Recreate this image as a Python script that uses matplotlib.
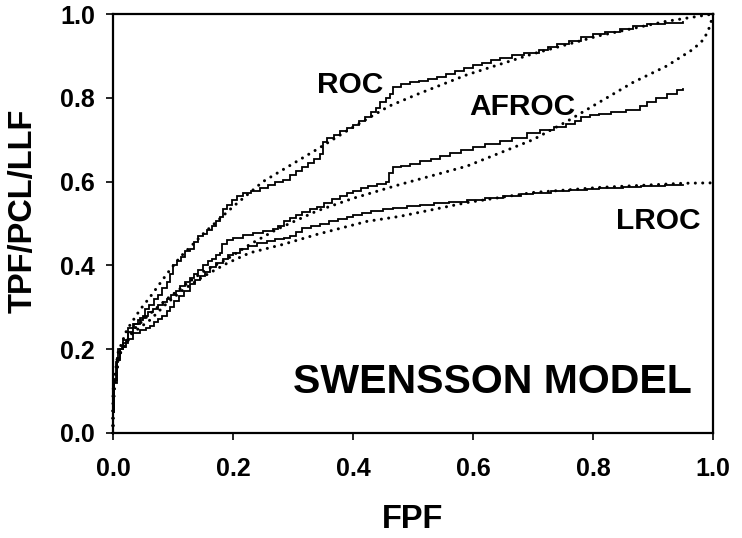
import matplotlib
matplotlib.use("Agg")
import matplotlib.pyplot as plt

plt.rcParams['font.family'] = ['Liberation Sans', 'DejaVu Sans']
plt.rcParams['font.weight'] = 'bold'

# ---------------- data ----------------
roc_emp_x = [0, 0, 0.002, 0.005, 0.008, 0.015, 0.022, 0.025, 0.035, 0.045, 0.053, 0.06, 0.068, 0.075,
             0.082, 0.09, 0.095, 0.1, 0.107, 0.113, 0.12, 0.128, 0.135, 0.142, 0.15, 0.157, 0.165,
             0.172, 0.178, 0.183, 0.19, 0.198, 0.207, 0.217, 0.23, 0.245, 0.258, 0.27, 0.283, 0.295,
             0.305, 0.315, 0.325, 0.335, 0.345, 0.35, 0.357, 0.368, 0.378, 0.39, 0.40, 0.41, 0.42,
             0.43, 0.438, 0.445, 0.455, 0.462, 0.467, 0.48, 0.495, 0.51, 0.525, 0.54, 0.555, 0.57,
             0.585, 0.6, 0.615, 0.63, 0.645, 0.665, 0.685, 0.71, 0.725, 0.74, 0.76, 0.78, 0.80, 0.82,
             0.845, 0.867, 0.89, 0.92, 0.95]
roc_emp_y = [0, 0.05, 0.13, 0.17, 0.20, 0.205, 0.22, 0.25, 0.26, 0.275, 0.295, 0.305, 0.32, 0.33,
             0.345, 0.36, 0.38, 0.40, 0.41, 0.42, 0.435, 0.44, 0.455, 0.47, 0.475, 0.485, 0.495,
             0.505, 0.515, 0.535, 0.545, 0.555, 0.565, 0.572, 0.577, 0.585, 0.592, 0.598, 0.605, 0.615,
             0.625, 0.635, 0.645, 0.655, 0.665, 0.695, 0.705, 0.712, 0.72, 0.727, 0.735, 0.745, 0.755,
             0.765, 0.775, 0.79, 0.80, 0.81, 0.825, 0.832, 0.837, 0.84, 0.845, 0.85, 0.857, 0.865,
             0.872, 0.878, 0.884, 0.89, 0.896, 0.902, 0.908, 0.915, 0.922, 0.928, 0.935, 0.944, 0.952,
             0.958, 0.965, 0.971, 0.975, 0.978, 0.982]

afroc_emp_x = [0, 0, 0.002, 0.007, 0.012, 0.017, 0.025, 0.033, 0.042, 0.05, 0.058, 0.067, 0.075,
               0.083, 0.09, 0.097, 0.105, 0.112, 0.12, 0.128, 0.135, 0.142, 0.15, 0.158, 0.165, 0.172,
               0.178, 0.182, 0.19, 0.2, 0.217, 0.233, 0.25, 0.267, 0.275, 0.285, 0.295, 0.305, 0.315,
               0.328, 0.34, 0.352, 0.365, 0.378, 0.39, 0.40, 0.413, 0.425, 0.44, 0.455, 0.46, 0.467,
               0.48, 0.495, 0.512, 0.53, 0.545, 0.562, 0.58, 0.6, 0.62, 0.645, 0.665, 0.69, 0.712,
               0.735, 0.755, 0.77, 0.78, 0.795, 0.81, 0.83, 0.855, 0.878, 0.89, 0.905, 0.923, 0.94, 0.95]
afroc_emp_y = [0, 0.05, 0.127, 0.18, 0.20, 0.222, 0.24, 0.26, 0.27, 0.28, 0.288, 0.295, 0.305,
               0.312, 0.32, 0.33, 0.34, 0.35, 0.36, 0.37, 0.38, 0.39, 0.40, 0.41, 0.415, 0.425,
               0.43, 0.45, 0.46, 0.465, 0.472, 0.477, 0.482, 0.487, 0.495, 0.505, 0.512, 0.52, 0.528,
               0.535, 0.54, 0.55, 0.558, 0.565, 0.572, 0.578, 0.585, 0.59, 0.595, 0.60, 0.62, 0.635,
               0.638, 0.642, 0.648, 0.655, 0.662, 0.668, 0.675, 0.682, 0.69, 0.698, 0.705, 0.715, 0.723,
               0.73, 0.738, 0.745, 0.755, 0.76, 0.762, 0.765, 0.772, 0.78, 0.79, 0.80, 0.81, 0.818, 0.822]

lroc_emp_x = [0, 0, 0.002, 0.007, 0.012, 0.017, 0.025, 0.033, 0.045, 0.055, 0.062, 0.068, 0.075,
              0.082, 0.09, 0.095, 0.102, 0.11, 0.118, 0.128, 0.137, 0.145, 0.153, 0.162, 0.172, 0.183,
              0.192, 0.2, 0.212, 0.225, 0.24, 0.256, 0.27, 0.285, 0.295, 0.305, 0.315, 0.33, 0.345,
              0.36, 0.375, 0.39, 0.40, 0.415, 0.43, 0.45, 0.467, 0.49, 0.512, 0.535, 0.56, 0.59, 0.62,
              0.65, 0.68, 0.70, 0.73, 0.76, 0.79, 0.81, 0.85, 0.88, 0.92, 0.95]
lroc_emp_y = [0, 0.05, 0.12, 0.175, 0.2, 0.215, 0.225, 0.238, 0.245, 0.25, 0.255, 0.265, 0.272,
              0.28, 0.29, 0.30, 0.315, 0.328, 0.34, 0.355, 0.365, 0.375, 0.385, 0.395, 0.405, 0.415,
              0.425, 0.43, 0.44, 0.447, 0.453, 0.458, 0.462, 0.466, 0.47, 0.48, 0.49, 0.495, 0.50,
              0.505, 0.51, 0.516, 0.52, 0.525, 0.53, 0.534, 0.538, 0.542, 0.545, 0.548, 0.552, 0.556,
              0.56, 0.565, 0.57, 0.573, 0.577, 0.58, 0.582, 0.584, 0.587, 0.59, 0.592, 0.593]

roc_fit_x = [0, 0.0, 0.008, 0.023, 0.045, 0.062, 0.09, 0.112, 0.133, 0.15, 0.2, 0.25, 0.34, 0.40,
             0.46, 0.51, 0.59, 0.70, 0.81, 0.92, 1.0]
roc_fit_y = [0, 0.10, 0.19, 0.246, 0.294, 0.325, 0.38, 0.42, 0.45, 0.475, 0.54, 0.60, 0.677, 0.73,
             0.78, 0.81, 0.855, 0.905, 0.948, 0.982, 1.0]

afroc_fit_x = [0, 0.0, 0.003, 0.012, 0.033, 0.062, 0.09, 0.117, 0.15, 0.19, 0.228, 0.273, 0.34,
               0.40, 0.478, 0.59, 0.70, 0.757, 0.81, 0.867, 0.923, 0.967, 0.985, 0.995, 1.0]
afroc_fit_y = [0, 0.05, 0.127, 0.19, 0.245, 0.285, 0.32, 0.35, 0.385, 0.415, 0.45, 0.486, 0.53,
               0.56, 0.593, 0.637, 0.70, 0.744, 0.789, 0.837, 0.876, 0.916, 0.94, 0.971, 1.0]

lroc_fit_x = [0, 0.0, 0.003, 0.012, 0.033, 0.062, 0.09, 0.117, 0.15, 0.19, 0.228, 0.283, 0.34,
              0.423, 0.478, 0.59, 0.70, 0.81, 0.95, 1.0]
lroc_fit_y = [0, 0.05, 0.127, 0.19, 0.239, 0.27, 0.31, 0.342, 0.373, 0.405, 0.43, 0.45, 0.474,
              0.505, 0.517, 0.55, 0.574, 0.586, 0.596, 0.597]

ticks = [0.0, 0.2, 0.4, 0.6, 0.8, 1.0]
tick_labels = ["0.0", "0.2", "0.4", "0.6", "0.8", "1.0"]

# ---------------- figure ----------------
W, H = 742, 538
fig = plt.figure(figsize=(W / 100, H / 100), dpi=100)
ax = fig.add_axes([113 / W, 1 - 433 / H, 600 / W, 419 / H])

emp_kw = dict(color='black', lw=1.3, drawstyle='steps-post', solid_joinstyle='miter')
fit_kw = dict(color='black', lw=2.2, linestyle=(0, (0.01, 2.4)), dash_capstyle='round')

for xs, ys in [(roc_emp_x, roc_emp_y), (afroc_emp_x, afroc_emp_y), (lroc_emp_x, lroc_emp_y)]:
    ax.plot(xs, ys, **emp_kw)
for xs, ys in [(roc_fit_x, roc_fit_y), (afroc_fit_x, afroc_fit_y), (lroc_fit_x, lroc_fit_y)]:
    ax.plot(xs, ys, clip_on=False, **fit_kw)

ax.set_xlim(0, 1)
ax.set_ylim(0, 1)
ax.set_xticks(ticks)
ax.set_xticklabels(tick_labels)
ax.set_yticks(ticks)
ax.set_yticklabels(tick_labels)
for s in ax.spines.values():
    s.set_linewidth(1.6)
ax.tick_params(axis='both', direction='out', length=5, width=1.2, labelsize=18)
ax.tick_params(axis='x', pad=12)
ax.tick_params(axis='y', pad=8)
for lab in ax.get_xticklabels() + ax.get_yticklabels():
    lab.set_fontweight('bold')

ax.text(0.395, 0.83, "ROC", fontsize=21.5, fontweight='bold', ha='center', va='center')
ax.text(0.682, 0.777, "AFROC", fontsize=21.5, fontweight='bold', ha='center', va='center')
ax.text(0.908, 0.505, "LROC", fontsize=21.5, fontweight='bold', ha='center', va='center')
ax.text(0.632, 0.122, "SWENSSON MODEL", fontsize=29.5, fontweight='bold', ha='center', va='center')

fig.text(413 / W, 1 - 519 / H, "FPF", fontsize=23.5, fontweight='bold', ha='center', va='center')
fig.text(23 / W, 1 - 211 / H, "TPF/PCL/LLF", fontsize=23.5, fontweight='bold', ha='center',
         va='center', rotation=90)

fig.savefig("out.png", dpi=100)
